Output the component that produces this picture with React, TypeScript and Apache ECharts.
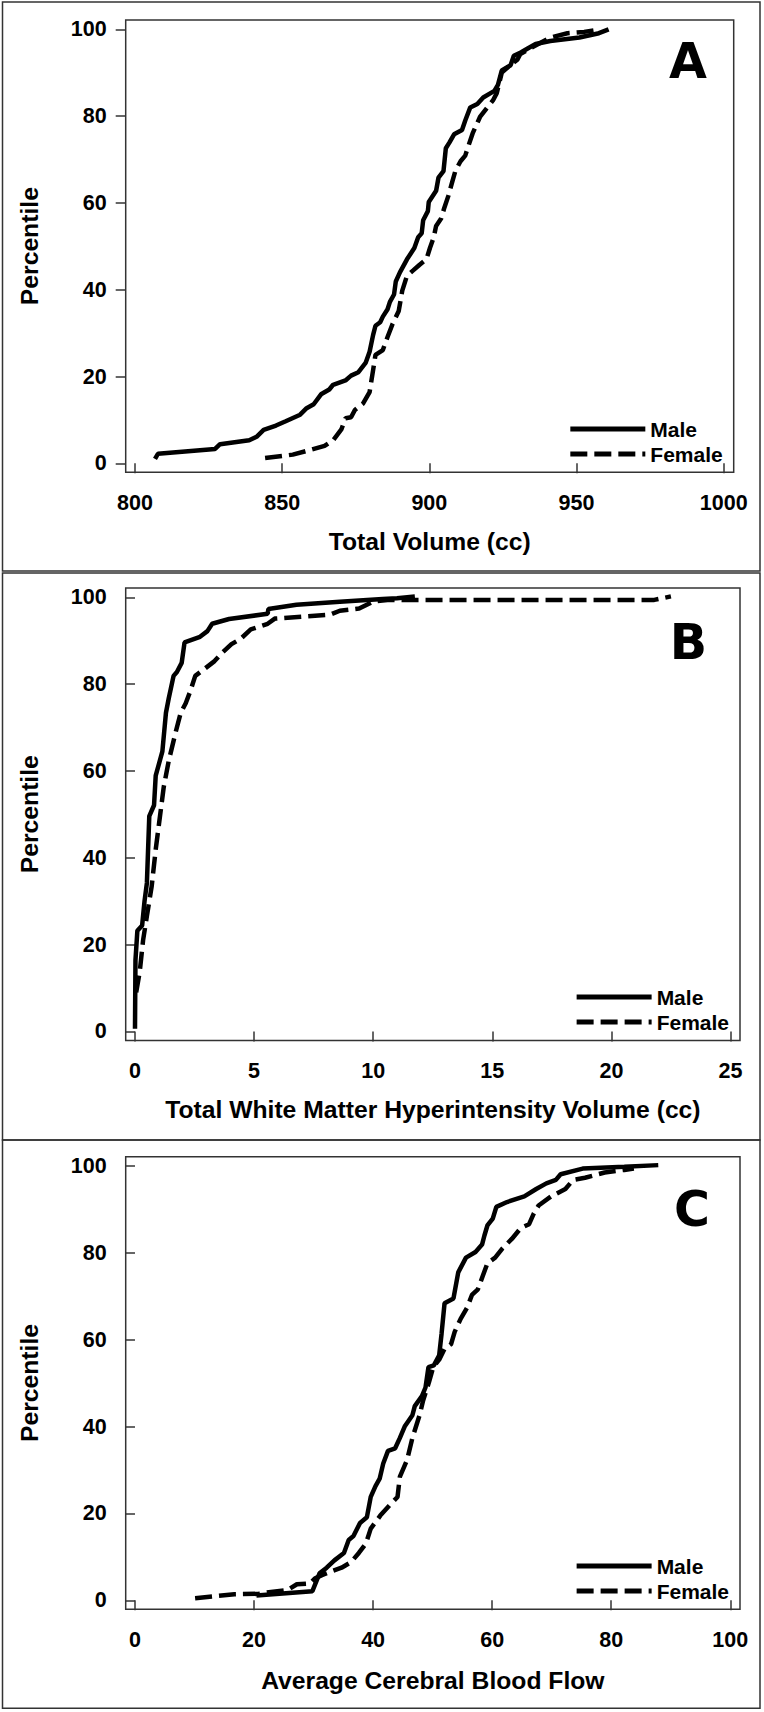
import React, { useEffect, useRef } from "react";
import * as echarts from "echarts";

// ---------- Tick labels ----------
const A_X_TICKS = [800, 850, 900, 950, 1000];
const B_X_TICKS = [0, 5, 10, 15, 20, 25];
const C_X_TICKS = [0, 20, 40, 60, 80, 100];
const Y_TICKS = [0, 20, 40, 60, 80, 100];

// ---------- Panel A: Total Volume (cc) ----------
const A_MALE_X = [806.8, 807.8, 827.2, 828.9, 838.8, 841.3, 843.7, 847.9, 851.2, 856.1, 858.3, 860.7, 863.2, 866.0, 867.3, 871.5, 873.4, 875.9, 878.4, 879.7, 880.9, 881.7, 883.3, 884.2, 885.8, 886.6, 888.0, 888.6, 890.0, 892.4, 894.9, 896.2, 897.4, 897.9, 899.5, 899.8, 902.3, 903.1, 904.8, 905.6, 906.8, 908.4, 911.1, 912.2, 913.9, 916.3, 918.3, 922.1, 923.3, 924.6, 927.6, 928.7, 931.2, 933.7, 936.1, 941.1, 951.0, 957.6, 960.9];
const A_MALE_Y = [1.0, 2.2, 3.3, 4.4, 5.3, 6.1, 7.7, 8.7, 9.7, 11.2, 12.7, 13.6, 15.9, 17.0, 18.1, 19.1, 20.2, 21.0, 23.2, 25.7, 29.6, 31.7, 32.5, 33.8, 35.5, 37.2, 38.9, 41.9, 44.0, 47.0, 49.6, 52.1, 53.0, 56.0, 58.1, 60.2, 62.8, 65.8, 67.3, 72.6, 73.9, 75.8, 76.8, 79.0, 82.0, 82.8, 84.3, 85.8, 87.2, 90.5, 91.7, 93.9, 94.7, 95.7, 96.6, 97.3, 98.1, 99.1, 100];
const A_FEMALE_X = [844.2, 853.6, 860.2, 864.4, 867.3, 870.1, 871.5, 873.4, 874.7, 877.5, 879.7, 880.9, 881.7, 884.2, 885.8, 887.5, 889.6, 890.8, 892.4, 894.6, 896.6, 899.0, 900.2, 901.5, 902.3, 904.0, 905.1, 906.4, 907.8, 908.9, 910.6, 912.2, 913.0, 914.7, 917.2, 919.6, 921.6, 922.9, 924.6, 927.9, 929.9, 930.9, 933.7, 937.8, 941.1, 946.9, 952.6, 956.3, 957.2];
const A_FEMALE_Y = [1.2, 2.0, 3.2, 4.0, 5.3, 7.8, 10.4, 10.6, 12.3, 13.8, 16.4, 21.5, 25.0, 26.1, 29.1, 32.1, 35.1, 39.8, 43.2, 44.5, 45.7, 47.0, 49.6, 52.1, 54.7, 56.4, 58.9, 61.5, 64.9, 67.5, 69.6, 70.9, 72.6, 76.0, 79.8, 81.9, 83.6, 85.3, 90.0, 92.0, 93.0, 94.3, 95.4, 96.9, 98.1, 99.1, 99.4, 99.8, 100.2];

// ---------- Panel B: Total White Matter Hyperintensity Volume (cc) ----------
const B_MALE_X = [0.0, 0.02, 0.1, 0.3, 0.4, 0.5, 0.6, 0.8, 0.87, 1.15, 1.3, 1.42, 1.62, 1.76, 1.96, 2.08, 2.73, 3.04, 3.24, 3.95, 5.57, 5.6, 6.78, 8.6, 10.4, 11.0, 11.75];
const B_MALE_Y = [0.6, 16.4, 23.2, 24.4, 30.0, 34.2, 49.6, 52.1, 58.9, 64.5, 73.4, 76.8, 81.9, 82.8, 84.9, 89.6, 90.9, 92.2, 93.9, 95.0, 96.2, 97.3, 98.3, 99.0, 99.6, 99.8, 100.2];
const B_FEMALE_X = [0.05, 0.2, 0.34, 0.5, 0.7, 0.87, 1.01, 1.21, 1.42, 1.72, 1.92, 2.13, 2.33, 2.53, 2.94, 3.34, 3.64, 4.05, 4.45, 4.86, 5.57, 5.87, 7.19, 8.2, 8.6, 9.41, 10.0, 10.6, 12.6, 21.8, 22.5];
const B_FEMALE_Y = [9.0, 13.8, 21.0, 26.6, 33.4, 41.9, 47.9, 56.4, 62.4, 69.2, 73.4, 75.6, 78.5, 81.9, 83.6, 85.3, 87.1, 89.2, 90.5, 92.6, 93.9, 95.1, 95.6, 96.0, 96.9, 97.4, 99.0, 99.4, 99.4, 99.4, 100.2];

// ---------- Panel C: Average Cerebral Blood Flow ----------
const C_MALE_X = [20.4, 29.8, 31.0, 32.2, 33.5, 35.1, 35.9, 36.7, 37.8, 38.95, 39.6, 40.4, 41.1, 41.7, 42.5, 43.7, 44.5, 45.3, 46.6, 47.0, 48.2, 48.8, 49.3, 50.2, 51.1, 51.5, 52.0, 53.5, 54.3, 55.6, 57.2, 58.3, 58.7, 59.2, 60.1, 60.7, 62.5, 65.4, 67.4, 69.1, 70.7, 71.5, 75.2, 82.2, 87.9];
const C_MALE_Y = [1.1, 2.1, 6.2, 7.5, 9.2, 10.9, 13.9, 14.8, 17.8, 19.1, 23.8, 26.3, 28.0, 31.5, 34.4, 35.0, 37.4, 40.0, 42.6, 44.7, 47.0, 49.0, 53.7, 54.1, 56.4, 61.4, 68.4, 69.5, 75.5, 78.9, 80.2, 81.9, 84.0, 86.3, 87.9, 90.6, 91.7, 93.0, 94.7, 96.0, 96.8, 98.1, 99.4, 99.8, 100.2];
const C_FEMALE_X = [10.1, 16.7, 20.8, 23.2, 25.7, 27.2, 29.4, 30.2, 31.4, 33.1, 34.7, 36.3, 37.6, 38.8, 39.6, 41.2, 42.9, 44.1, 44.5, 45.7, 46.6, 47.8, 48.4, 49.4, 50.1, 51.1, 52.0, 53.1, 53.7, 54.7, 55.8, 56.6, 57.6, 58.4, 59.2, 60.5, 61.7, 63.3, 64.8, 66.2, 67.0, 67.8, 69.9, 72.3, 73.6, 75.6, 78.9, 82.2, 83.8];
const C_FEMALE_Y = [0.5, 1.4, 1.5, 2.0, 2.4, 3.7, 3.9, 5.0, 5.8, 6.7, 7.5, 8.8, 10.9, 13.1, 16.5, 19.5, 22.1, 23.8, 28.5, 32.3, 37.4, 42.6, 46.0, 50.3, 53.7, 55.4, 57.9, 59.0, 61.8, 64.8, 67.4, 70.3, 71.6, 74.6, 77.6, 78.9, 81.0, 83.2, 85.7, 86.6, 89.1, 90.9, 93.0, 94.7, 96.8, 97.3, 98.5, 99.1, 99.4];

const FONT = "'Liberation Sans', Arial, sans-serif";
const zip = (xs: number[], ys: number[]) => xs.map((x, i) => [x, ys[i]]);

const PANELS = [
  {
    letter: "A", title: "Total Volume (cc)", ticks: A_X_TICKS,
    male: zip(A_MALE_X, A_MALE_Y), female: zip(A_FEMALE_X, A_FEMALE_Y),
    grid: { left: 125.7, top: 20, width: 608, height: 452.3 },
    xMin: 796.84, xMax: 1003.4, nameGap: 57,
    letterPos: [707, 61], legendRight: 41.3, legendTop: 418.5, box: [2.5, 2, 757.5, 569],
  },
  {
    letter: "B", title: "Total White Matter Hyperintensity Volume (cc)", ticks: B_X_TICKS,
    male: zip(B_MALE_X, B_MALE_Y), female: zip(B_FEMALE_X, B_FEMALE_Y),
    grid: { left: 125.7, top: 588, width: 614.3, height: 452.4 },
    xMin: -0.39, xMax: 25.4, nameGap: 57,
    letterPos: [707, 642], legendRight: 35, legendTop: 986.5, box: [2.5, 573, 757.5, 567],
  },
  {
    letter: "C", title: "Average Cerebral Blood Flow", ticks: C_X_TICKS,
    male: zip(C_MALE_X, C_MALE_Y), female: zip(C_FEMALE_X, C_FEMALE_Y),
    grid: { left: 125.7, top: 1156.7, width: 614.3, height: 452.6 },
    xMin: -1.56, xMax: 101.63, nameGap: 59,
    letterPos: [710, 1209], legendRight: 35, legendTop: 1555.5, box: [2.5, 1140, 757.5, 568.3],
  },
];

export default function App() {
  const ref = useRef<HTMLDivElement>(null);
  useEffect(() => {
    if (!ref.current) return;
    const chart = echarts.init(ref.current, null, { renderer: "svg" });
    const tickLabel = {
      fontSize: 21.5, fontWeight: "bold", color: "#000", fontFamily: FONT,
      formatter: (v: number) => String(v),
    };
    const option: any = {
      animation: false,
      backgroundColor: "#fff",
      textStyle: { fontFamily: FONT },
      grid: PANELS.map((p) => ({ ...p.grid, show: true, borderColor: "#333", borderWidth: 1.5, backgroundColor: "transparent", containLabel: false })),
      xAxis: PANELS.map((p, i) => ({
        type: "value", gridIndex: i, min: p.xMin, max: p.xMax,
        name: p.title, nameLocation: "middle", nameGap: p.nameGap,
        nameTextStyle: { fontSize: 24.7, fontWeight: "bold", color: "#000", fontFamily: FONT },
        axisLine: { show: false },
        axisTick: { show: true, length: 10, customValues: p.ticks, lineStyle: { color: "#333", width: 1.5 } },
        axisLabel: { show: true, margin: 20, customValues: p.ticks, ...tickLabel },
        splitLine: { show: false },
      })),
      yAxis: PANELS.map((p, i) => ({
        type: "value", gridIndex: i, min: -2.07, max: 102.14,
        name: "Percentile", nameLocation: "middle", nameGap: 84,
        nameTextStyle: { fontSize: 24.7, fontWeight: "bold", color: "#000", fontFamily: FONT },
        axisLine: { show: false },
        axisTick: { show: true, length: 10, customValues: Y_TICKS, lineStyle: { color: "#333", width: 1.5 } },
        axisLabel: { show: true, margin: 19, customValues: Y_TICKS, ...tickLabel },
        splitLine: { show: false },
      })),
      legend: PANELS.map((p) => ({
        data: ["Male", "Female"], orient: "vertical", right: p.legendRight, top: p.legendTop,
        itemWidth: 75, itemHeight: 14, itemGap: 4, padding: 0, selectedMode: false,
        lineStyle: { width: 5 },
        itemStyle: { opacity: 0 },
        textStyle: { fontSize: 21, fontWeight: "bold", color: "#000", fontFamily: FONT },
      })),
      series: PANELS.flatMap((p, i) => [
        {
          name: "Male", type: "line", xAxisIndex: i, yAxisIndex: i, data: p.male,
          symbol: "none", showSymbol: false, itemStyle: { color: "#000" },
          lineStyle: { color: "#000", width: 4.5, type: "solid" },
        },
        {
          name: "Female", type: "line", xAxisIndex: i, yAxisIndex: i, data: p.female,
          symbol: "none", showSymbol: false, itemStyle: { color: "#000" },
          lineStyle: { color: "#000", width: 4.5, type: [17, 7] },
        },
      ]),
      graphic: PANELS.flatMap((p) => [
        {
          type: "rect", silent: true, z: -1,
          shape: { x: p.box[0], y: p.box[1], width: p.box[2], height: p.box[3] },
          style: { fill: "none", stroke: "#333", lineWidth: 1.5 },
        },
        {
          type: "text", silent: true, x: p.letterPos[0], y: p.letterPos[1],
          style: {
            text: p.letter, fontSize: 49, fontWeight: "bold", fontFamily: "'DejaVu Sans', Verdana, sans-serif",
            fill: "#000", textAlign: "right", align: "right", textVerticalAlign: "middle", verticalAlign: "middle",
          },
        },
      ]),
    };
    chart.setOption(option);
    return () => chart.dispose();
  }, []);
  return (
    <div style={{ position: "absolute", left: 0, top: 0, width: 764, height: 1712, background: "#fff" }}>
      <div ref={ref} style={{ width: 764, height: 1712 }} />
    </div>
  );
}
